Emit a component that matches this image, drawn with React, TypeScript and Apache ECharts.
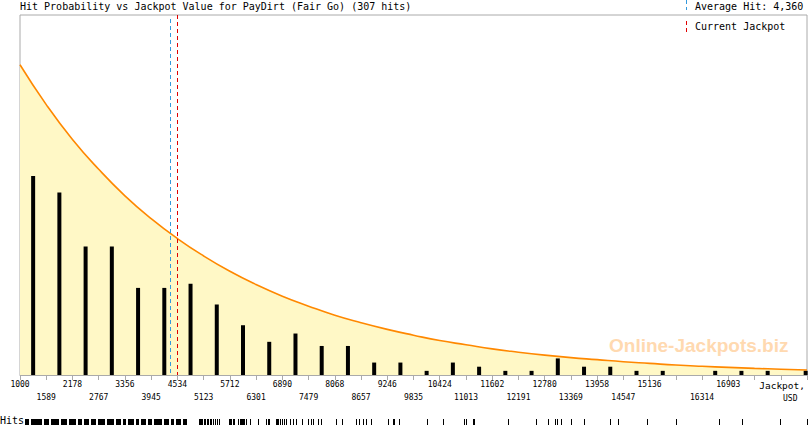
import React, { useEffect, useRef } from "react";
import * as echarts from "echarts";

const TITLE = "Hit Probability vs Jackpot Value for PayDirt (Fair Go) (307 hits)";
const AVERAGE_HIT = 4360;
const CURRENT_JACKPOT = 4534;
const AXIS_MIN = 1000;
const AXIS_MAX = 18670;
const TICK_STEP = 589;
const Y_MAX = 86.8;

const topTickLabels = [1000, 2178, 3356, 4534, 5712, 6890, 8068, 9246, 10424, 11602, 12780, 13958, 15136, 16903];
const bottomTickLabels = [1589, 2767, 3945, 5123, 6301, 7479, 8657, 9835, 11013, 12191, 13369, 14547, 16314];

// histogram bars (bin position in USD, hits in bin)
const barPositions = [
  1295, 1884, 2473, 3062, 3651, 4240, 4829, 5418, 6007, 6596,
  7185, 7774, 8363, 8952, 9541, 10130, 10719, 11308, 11897, 12486,
  13075, 13664, 14253, 14842, 15431, 16020, 16609, 17198, 17787, 18640,
];
const hitCounts = [
  48, 44, 31, 31, 21, 21, 22, 17, 12, 8,
  10, 7, 7, 3, 3, 1, 3, 2, 1, 1,
  4, 2, 2, 1, 1, 0, 1, 1, 1, 1,
];

// fitted probability curve (read at each tick, in hits)
const curveX = [
  1000, 1589, 2178, 2767, 3356, 3945, 4534, 5123, 5712, 6301, 6890,
  7479, 8068, 8657, 9246, 9835, 10424, 11013, 11602, 12191, 12780,
  13369, 13958, 14547, 15136, 15725, 16314, 16903, 17492, 18081, 18670,
];
const curveY = [
  74.8, 65.2, 56.8, 49.6, 43.2, 37.7, 32.9, 28.7, 25.0, 21.8, 19.0,
  16.6, 14.4, 12.6, 11.0, 9.6, 8.3, 7.3, 6.3, 5.5, 4.8,
  4.2, 3.7, 3.2, 2.8, 2.4, 2.1, 1.85, 1.6, 1.4, 1.2,
];

// rug of hits: dense stretches [from, to] and single hits (USD)
const rugSegments = [
  [1113, 1203], [1248, 1495], [1540, 1653], [1698, 1878], [1923, 2058],
  [2103, 2261], [2306, 2396], [2441, 2553], [2598, 2711], [2756, 2913],
  [2958, 3116], [3161, 3274], [3319, 3386], [3431, 3566], [3611, 3679],
  [3724, 3836], [3881, 3971], [4016, 4196], [4241, 4354], [4399, 4467],
  [4512, 4624], [4669, 4759],
];
const rugHits = [
  5029, 5052, 5074, 5097, 5142, 5164, 5209, 5232, 5277, 5299, 5344, 5367,
  5389, 5412, 5434, 5457, 5682, 5705, 5727, 5772, 5795, 5885, 5930, 5952,
  5975, 5997, 6020, 6065, 6155, 6335, 6515, 6560, 6582, 6740, 6763, 6785,
  6830, 6875, 6920, 6965, 7055, 7123, 7190, 7325, 7460, 7528, 7573, 7685,
  7753, 8091, 8226, 8541, 8608, 8698, 8766, 8879, 9261, 9374, 9396, 9509,
  10139, 10499, 10972, 11017, 11175, 11197, 11962, 12593, 12863, 13020,
  13065, 13155, 13381, 13673, 14236, 14416, 15069, 15722, 16689, 17207,
  18062, 18660,
];

const MONO = "'DejaVu Sans Mono', monospace";
const BLUE = "#3399dd";
const RED = "#e00000";

const refLineValues = [AVERAGE_HIT, CURRENT_JACKPOT];
const refLineColors = [BLUE, RED];
const refLineTopOffset = [4, 0];

export default function App() {
  const ref = useRef<HTMLDivElement>(null);

  useEffect(() => {
    document.body.style.margin = "0";
    const chart = echarts.init(ref.current!, null, { renderer: "svg" });

    const rugData = [
      ...rugSegments.map((s) => [s[0], s[1]]),
      ...rugHits.map((v) => [v, v]),
    ];

    chart.setOption({
      animation: false,
      backgroundColor: "#ffffff",
      grid: [
        {
          left: 20,
          right: 3,
          top: 15,
          bottom: 50,
          show: true,
          borderColor: "#aaaaaa",
          borderWidth: 1,
        },
        { left: 20, right: 3, top: 419, height: 6 },
      ],
      xAxis: [
        {
          type: "value",
          gridIndex: 0,
          min: AXIS_MIN,
          max: AXIS_MAX,
          interval: TICK_STEP,
          axisLine: { show: true, lineStyle: { color: "#aaaaaa" } },
          axisTick: { show: true, length: 5, lineStyle: { color: "#aaaaaa" } },
          splitLine: { show: false },
          axisLabel: {
            margin: 3,
            color: "#000",
            fontFamily: MONO,
            fontSize: 8,
            lineHeight: 13,
            verticalAlign: "top",
            showMinLabel: true,
            showMaxLabel: true,
            formatter: (val: number) => {
              const v = Math.round(val);
              if (topTickLabels.includes(v)) return String(v);
              if (bottomTickLabels.includes(v)) return "\n" + v;
              return "";
            },
          },
        },
        {
          type: "value",
          gridIndex: 1,
          min: AXIS_MIN,
          max: AXIS_MAX,
          show: false,
        },
      ],
      yAxis: [
        { type: "value", gridIndex: 0, min: 0, max: Y_MAX, show: false },
        { type: "value", gridIndex: 1, min: 0, max: 1, show: false },
      ],
      series: [
        {
          type: "line",
          xAxisIndex: 0,
          yAxisIndex: 0,
          data: curveX.map((x, i) => [x, curveY[i]]),
          smooth: true,
          symbol: "none",
          lineStyle: { color: "#ff8800", width: 1.6 },
          areaStyle: { color: "#fff8c6", opacity: 1 },
          z: 1,
          silent: true,
        },
        {
          type: "bar",
          xAxisIndex: 0,
          yAxisIndex: 0,
          data: barPositions.map((x, i) => [x, hitCounts[i]]),
          barWidth: 4,
          itemStyle: { color: "#000000" },
          z: 3,
          silent: true,
        },
        {
          type: "custom",
          xAxisIndex: 0,
          yAxisIndex: 0,
          data: refLineValues.map((v, i) => [v, 0, i]),
          encode: { x: 0, y: 1 },
          clip: false,
          silent: true,
          z: 4,
          renderItem: (params: any, api: any) => {
            const idx = api.value(2);
            const p = api.coord([api.value(0), 0]);
            const cs = params.coordSys;
            const x = Math.round(p[0]) + 0.5;
            return {
              type: "line",
              shape: { x1: x, y1: cs.y + refLineTopOffset[idx], x2: x, y2: cs.y + cs.height },
              style: { stroke: refLineColors[idx], lineWidth: 1, lineDash: [4, 3] },
            };
          },
        },
        {
          type: "custom",
          xAxisIndex: 1,
          yAxisIndex: 1,
          data: rugData,
          encode: { x: [0, 1], y: 0 },
          clip: false,
          silent: true,
          renderItem: (params: any, api: any) => {
            const s = api.coord([api.value(0), 0]);
            const e = api.coord([api.value(1), 1]);
            const x0 = Math.round(s[0]);
            const w = Math.max(1, Math.round(e[0]) - x0);
            return {
              type: "rect",
              shape: { x: x0, y: e[1], width: w, height: s[1] - e[1] },
              style: { fill: "#000000" },
            };
          },
        },
      ],
      graphic: [
        {
          type: "text",
          left: 20,
          top: 1,
          style: { text: TITLE, fontFamily: MONO, fontSize: 10, fill: "#000" },
        },
        {
          type: "line",
          shape: { x1: 686.5, y1: 0, x2: 686.5, y2: 10 },
          style: { stroke: BLUE, lineWidth: 1, lineDash: [4, 3] },
        },
        {
          type: "text",
          left: 695,
          top: 1,
          style: { text: "Average Hit: 4,360", fontFamily: MONO, fontSize: 10, fill: "#000" },
        },
        {
          type: "line",
          shape: { x1: 686.5, y1: 21, x2: 686.5, y2: 33 },
          style: { stroke: RED, lineWidth: 1, lineDash: [4, 3] },
        },
        {
          type: "text",
          left: 695,
          top: 21,
          style: { text: "Current Jackpot", fontFamily: MONO, fontSize: 10, fill: "#000" },
        },
        {
          type: "text",
          right: 5,
          top: 380,
          style: { text: "Jackpot,", fontFamily: MONO, fontSize: 9.5, fill: "#000" },
        },
        {
          type: "text",
          left: 783,
          top: 394,
          style: { text: "USD", fontFamily: MONO, fontSize: 8, fill: "#000" },
        },
        {
          type: "text",
          left: 0,
          top: 415,
          style: { text: "Hits", fontFamily: MONO, fontSize: 10, fill: "#000" },
        },
        {
          type: "text",
          left: 609,
          top: 336,
          z: 0,
          style: {
            text: "Online-Jackpots.biz",
            fontFamily: "'Liberation Sans', Arial, sans-serif",
            fontWeight: "bold",
            fontSize: 19,
            fill: "#ffd9b0",
          },
        },
      ],
    });

    return () => chart.dispose();
  }, []);

  return <div ref={ref} style={{ width: 810, height: 425 }} />;
}
